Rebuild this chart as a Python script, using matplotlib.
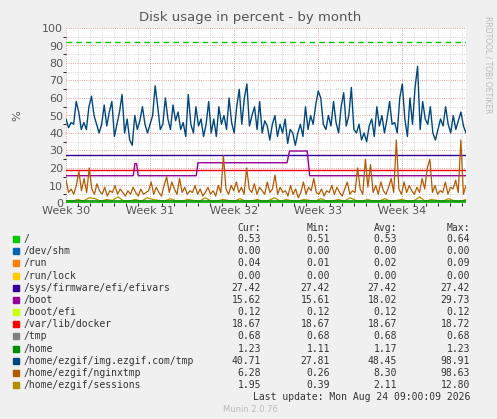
import numpy as np
import matplotlib
matplotlib.use("Agg")
import matplotlib.pyplot as plt
from matplotlib.ticker import MultipleLocator

# values (percent), evenly spaced over the visible range
img_tmp = [48, 43, 46, 45, 58, 52, 42, 46, 42, 55, 61, 50, 45, 40, 45, 56, 44, 52, 58, 38,
           45, 52, 62, 40, 48, 36, 33, 50, 42, 47, 55, 45, 40, 45, 50, 67, 55, 42, 45, 60,
           48, 42, 56, 47, 52, 42, 46, 38, 62, 45, 40, 55, 44, 48, 38, 45, 58, 40, 48, 38,
           55, 45, 50, 42, 60, 46, 40, 55, 65, 45, 60, 68, 44, 50, 55, 42, 58, 40, 47, 44,
           36, 45, 50, 38, 45, 40, 48, 34, 42, 40, 33, 40, 45, 38, 55, 42, 50, 45, 56, 64,
           60, 45, 42, 50, 44, 58, 46, 40, 55, 63, 44, 50, 66, 42, 40, 45, 36, 40, 35, 44,
           48, 38, 55, 44, 50, 40, 48, 58, 45, 46, 40, 60, 68, 48, 38, 60, 45, 66, 78, 42,
           58, 48, 45, 55, 40, 36, 42, 48, 44, 55, 45, 40, 50, 42, 47, 52, 44, 40]
nginxtmp = [13, 6, 8, 5, 10, 18, 7, 14, 6, 20, 8, 5, 11, 7, 5, 9, 4, 7, 6, 10, 5, 8, 6, 4,
            7, 5, 9, 6, 4, 8, 5, 6, 7, 12, 5, 9, 6, 4, 10, 15, 6, 12, 8, 5, 14, 6, 9, 5, 7,
            6, 10, 5, 8, 4, 6, 9, 5, 7, 4, 10, 6, 27, 8, 5, 10, 7, 12, 6, 9, 5, 20, 8, 6, 11,
            5, 9, 7, 5, 12, 6, 8, 16, 5, 9, 6, 7, 4, 10, 5, 8, 3, 6, 12, 5, 9, 7, 14, 6, 5,
            8, 4, 7, 6, 10, 5, 9, 6, 4, 8, 12, 5, 7, 6, 20, 8, 5, 25, 9, 22, 6, 10, 5, 12, 7,
            5, 9, 14, 6, 36, 8, 5, 12, 6, 10, 7, 5, 9, 6, 14, 8, 20, 25, 6, 10, 5, 7, 6, 12,
            5, 9, 8, 13, 6, 36, 5, 10]
sessions = [1.5, 1, 2, 1.2, 3, 2.5, 1, 2, 1.5, 3.5, 1, 1.2, 2, 1, 3, 2, 1.5, 1, 2.5, 1.2,
            1, 2, 1.5, 1, 3, 1.2, 1, 2, 1.5, 1, 2.5, 1, 1.2, 2, 1, 1.5, 3, 1, 2, 1.2, 1, 2,
            1.5, 1, 2.5, 1, 1.2, 2, 1, 3, 1.5, 1, 2, 1.2, 1, 2.5, 1, 1.5, 2, 1, 1.2, 3.5, 1,
            2, 1.5, 1, 2.5, 1.2, 1, 2]
boot_t = [0, 0.8, 0.82, 0.84, 0.86, 1.55, 1.57, 2.63, 2.66, 2.87, 2.9, 4.76]
boot_v = [15.6, 15.6, 22.5, 22.5, 15.6, 15.6, 23.0, 23.0, 29.7, 29.7, 15.6, 15.6]

names = ["/", "/dev/shm", "/run", "/run/lock", "/sys/firmware/efi/efivars", "/boot",
         "/boot/efi", "/var/lib/docker", "/tmp", "/home", "/home/ezgif/img.ezgif.com/tmp",
         "/home/ezgif/nginxtmp", "/home/ezgif/sessions"]
colors = ["#00CC00", "#0066B3", "#FF8000", "#FFCC00", "#330099", "#990099", "#CCFF00",
          "#FF0000", "#808080", "#008F00", "#00487D", "#B35A00", "#B38F00"]
cur = [0.53, 0.00, 0.04, 0.00, 27.42, 15.62, 0.12, 18.67, 0.68, 1.23, 40.71, 6.28, 1.95]
mn = [0.51, 0.00, 0.01, 0.00, 27.42, 15.61, 0.12, 18.67, 0.68, 1.11, 27.81, 0.26, 0.39]
avg = [0.53, 0.00, 0.02, 0.00, 27.42, 18.02, 0.12, 18.67, 0.68, 1.17, 48.45, 8.30, 2.11]
mx = [0.64, 0.00, 0.09, 0.00, 27.42, 29.73, 0.12, 18.72, 0.68, 1.23, 98.91, 98.63, 12.80]
week_labels = ["Week 30", "Week 31", "Week 32", "Week 33", "Week 34"]
span = 4.76
warn = 92

W, H = 497, 419
fig = plt.figure(figsize=(W / 100, H / 100), dpi=100, facecolor="#F0F0F0")
ax = fig.add_axes([66 / W, 1 - 203 / H, 400 / W, 175 / H], facecolor="white")

def tx(vals):
    return np.linspace(0, span, len(vals))

ax.axhline(warn, color="#00CC00", lw=1, ls=(0, (4, 3)))
ax.axhline(27.42, color="#330099", lw=1)
ax.axhline(18.67, color="#FF0000", lw=1)
ax.plot(boot_t, boot_v, color="#990099", lw=1)
ax.plot(tx(img_tmp), img_tmp, color="#00487D", lw=1)
ax.plot(tx(nginxtmp), nginxtmp, color="#B35A00", lw=0.9)
ax.plot(tx(sessions), sessions, color="#B38F00", lw=0.9)
ax.axhline(1.2, color="#008F00", lw=1.2)
ax.axhline(0.6, color="#808080", lw=0.6)
ax.axhline(0.53, color="#00CC00", lw=0.6)

ax.set_xlim(0, span)
ax.set_ylim(0, 100)
ax.yaxis.set_major_locator(MultipleLocator(10))
ax.yaxis.set_minor_locator(MultipleLocator(5))
ax.xaxis.set_major_locator(MultipleLocator(1))
ax.xaxis.set_minor_locator(MultipleLocator(1 / 7))
ax.grid(which="major", color="#E08080", ls=":", lw=0.6)
ax.grid(which="minor", color="#C8C8C8", ls=":", lw=0.6)
ax.set_xticks(range(5))
ax.set_xticklabels(week_labels)
ax.tick_params(labelsize=8, colors="#555555", length=0, pad=2)
for s in ax.spines.values():
    s.set_visible(False)
ax.set_ylabel("%", fontsize=8, color="#555555", labelpad=14)
fig.text(250 / W, 1 - 18 / H, "Disk usage in percent - by month", ha="center", va="center",
         fontsize=9.5, color="#555555")
fig.text(488 / W, 1 - 65 / H, "RRDTOOL / TOBI OETIKER", rotation=270, ha="center", va="center",
         fontsize=5.5, color="#BBBBBB")

mono = dict(family="DejaVu Sans Mono", fontsize=7, color="#333333", va="center")
for x, h in zip([261, 330, 397, 470], ["Cur:", "Min:", "Avg:", "Max:"]):
    fig.text(x / W, 1 - 228 / H, h, ha="right", **mono)
for i, n in enumerate(names):
    y = 1 - (239 + i * 12.17) / H
    fig.patches.append(plt.Rectangle((13 / W, y - 3 / H), 6 / W, 6 / H, color=colors[i],
                                     transform=fig.transFigure))
    fig.text(24 / W, y, n, ha="left", **mono)
    for x, v in zip([261, 330, 397, 470], [cur[i], mn[i], avg[i], mx[i]]):
        fig.text(x / W, y, f"{v:.2f}", ha="right", **mono)
fig.text(470 / W, 1 - 397 / H, "Last update: Mon Aug 24 09:00:09 2026", ha="right", **mono)
fig.text(250 / W, 1 - 409 / H, "Munin 2.0.76", ha="center", va="center", fontsize=6, color="#BBBBBB")

fig.savefig("out.png", dpi=100, facecolor=fig.get_facecolor())
